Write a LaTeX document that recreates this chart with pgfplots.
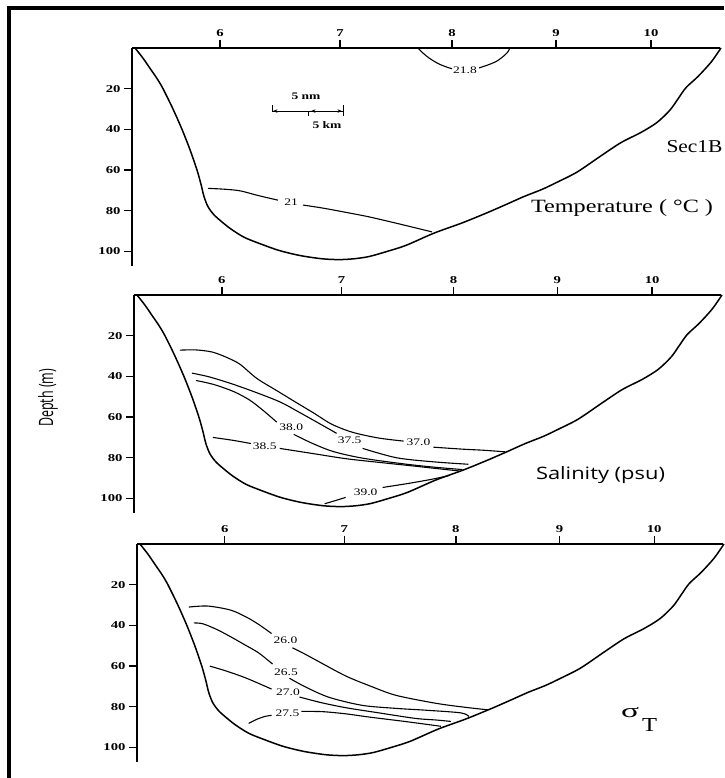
\documentclass[border=0pt]{standalone}
\usepackage{fontspec}
\setmainfont{Liberation Serif}
\setsansfont{Open Sans}
\usepackage{graphicx}
\usepackage{pgfplots}
\pgfplotsset{compat=1.18}
\usepackage{pgfplotstable}
\usetikzlibrary{arrows.meta}

\newcommand{\tl}[1]{\scalebox{1.4}[1]{\fontsize{10.5}{12}\selectfont\bfseries #1}}
\newcommand{\cl}[1]{\scalebox{1.35}[1]{\fontsize{10}{11}\selectfont #1}}
\newcommand{\bl}[1]{\scalebox{1.35}[1]{\fontsize{10}{11}\selectfont\bfseries #1}}

% bathymetry of the section (distance offset, -depth)
\pgfplotstableread{
x y
3 0
11 -5
18 -10
25 -15
31 -20
41 -30
50 -40
58 -50
65 -60
69 -67
72 -73
76 -78
82 -82
90 -85.5
99 -89
112 -93
127 -96
147 -99.5
168 -102
190 -103.6
207 -104
222 -103.6
237 -102.5
255 -100
274 -97
302 -91
330 -86
355 -81
376 -76.5
392 -73
410 -69.5
425 -66
445 -61
469 -53
489 -46.5
509 -41.5
525 -36.6
538 -30.5
546 -25
554 -19.5
566 -14
579 -7
589 0
}\profile

\pgfplotsset{
  sec/.style={
    scale only axis, width=588pt, height=217.7pt,
    xmin=0, xmax=588, ymin=-107, ymax=0,
    axis x line=top, axis y line=left,
    x axis line style={-}, y axis line style={-},
    axis line style={line width=1.4pt},
    tick align=outside, major tick length=8pt,
    tick style={black, line width=1.3pt},
    xtick={88,208,320,424,519},
    xticklabels={\tl{6},\tl{7},\tl{8},\tl{9},\tl{10}},
    ytick={-100,-80,-60,-40,-20},
    yticklabels={\tl{100},\tl{80},\tl{60},\tl{40},\tl{20}},
    clip=false,
  },
  prof/.style={black, line width=1.5pt, smooth, tension=0.5, mark=none},
  iso/.style={black, line width=1.1pt, smooth, tension=0.5, mark=none},
}

\begin{document}
\begin{tikzpicture}[x=1pt,y=1pt]
\useasboundingbox (0,0) rectangle (724,778);
\fill[white] (0,0) rectangle (724,778);
\draw[line width=4pt] (9,0) -- (9,769.5) -- (724,769.5);

% ---------------- Temperature
\begin{axis}[sec, at={(132pt,730pt)}, anchor=north west]
\addplot[prof] table[x=x,y=y] {\profile};
\addplot[iso] coordinates {(76,-69) (92,-69.4) (108,-70.2) (126,-72.5) (146,-74.8)};
\addplot[iso] coordinates {(171,-77.2) (191,-78.7) (214,-80.8) (237,-83) (270,-86.8) (300,-90.4)};
\node at (axis cs:159,-75.8) {\cl{21}};
\addplot[iso] coordinates {(286,0) (291,-2.5) (297,-4.9) (303,-6.8) (309,-8.3) (316,-9.6) (320,-10.2)};
\addplot[iso] coordinates {(347,-9.8) (355,-8.5) (364,-6.7) (369,-5) (373,-3.4) (376,-1.8) (378,0)};
\node at (axis cs:333,-11.1) {\cl{21.8}};
% scale bar
\draw[line width=1pt] (axis cs:140,-31) -- (axis cs:211,-31);
\draw[line width=1pt] (axis cs:140,-28) -- (axis cs:140,-31);
\draw[line width=1pt] (axis cs:176,-31) -- (axis cs:176,-33.5);
\draw[line width=1pt] (axis cs:211,-28) -- (axis cs:211,-33.5);
\draw[line width=0.9pt,-{Stealth[length=4.5pt,width=3.5pt]}] (axis cs:152,-31) -- (axis cs:141,-31);
\draw[line width=0.9pt,-{Stealth[length=4.5pt,width=3.5pt]}] (axis cs:198,-31) -- (axis cs:210,-31);
\draw[line width=0.9pt,-{Stealth[length=4.5pt,width=3.5pt]}] (axis cs:190,-31) -- (axis cs:179,-31);
\node at (axis cs:174,-23.5) {\bl{5 nm}};
\node at (axis cs:195,-37.7) {\bl{5 km}};
\end{axis}

% ---------------- Salinity
\begin{axis}[sec, width=587pt, at={(134pt,483pt)}, anchor=north west]
\addplot[prof] table[x=x,y=y] {\profile};
% 37.0
\addplot[iso] coordinates {(46,-27.1) (62,-27) (78,-28) (92,-30.5) (106,-34) (123,-41) (143,-47) (163,-53) (180,-58) (198,-63.5) (219,-67.5) (245,-70.3) (270,-71.8)};
\addplot[iso] coordinates {(300,-74.8) (330,-75.8) (350,-76.3) (372,-77.1)};
\node at (axis cs:285,-72.3) {\cl{37.0}};
% 37.5
\addplot[iso] coordinates {(58,-38.4) (75,-40.2) (97,-43.5) (120,-47.5) (146,-52.5) (165,-57.5) (185,-63) (203,-68)};
\addplot[iso] coordinates {(229,-75.4) (263,-80) (300,-82) (335,-83.2)};
\node at (axis cs:216,-71.4) {\cl{37.5}};
% 38.0
\addplot[iso] coordinates {(62,-42) (80,-44) (100,-47.5) (116,-51.7) (130,-57) (143,-62.5)};
\addplot[iso] coordinates {(160,-68.5) (179,-73) (200,-77) (229,-80.2) (270,-83) (300,-84.6) (329,-85.8)};
\node at (axis cs:157.5,-65) {\cl{38.0}};
% 38.5
\addplot[iso] coordinates {(79,-70) (100,-71.5) (117,-73)};
\addplot[iso] coordinates {(146,-75.4) (180,-78) (213,-80.5) (250,-82.5) (279,-84) (305,-85.4) (326,-86.5)};
\node at (axis cs:131,-74.4) {\cl{38.5}};
% 39.0
\addplot[iso] coordinates {(191,-102.6) (200,-101.3) (212,-99.5)};
\addplot[iso] coordinates {(249,-94.6) (275,-92.6) (298,-90.6) (316,-88.7)};
\node at (axis cs:232,-97) {\cl{39.0}};
\end{axis}

% ---------------- Sigma-T
\begin{axis}[sec, width=586pt, at={(137pt,234pt)}, anchor=north west]
\addplot[prof] table[x=x,y=y] {\profile};
% 26.0
\addplot[iso] coordinates {(52,-31) (71,-30.5) (94,-32.5) (110,-36) (122,-39.5) (135,-44)};
\addplot[iso] coordinates {(156,-51) (170,-54.5) (185,-58.5) (210,-65) (235,-70) (260,-74.4) (300,-78.3) (330,-80.3) (352,-81.5)};
\node at (axis cs:149,-47.3) {\cl{26.0}};
% 26.5
\addplot[iso] coordinates {(57,-38.8) (66,-39.2) (80,-42) (94,-45.6) (108,-49.5) (122,-53.5) (136,-59)};
\addplot[iso] coordinates {(153,-66) (170,-70.5) (193,-75.4) (226,-79.3) (260,-80.8) (290,-81.7) (325,-83) (333,-84.8)};
\node at (axis cs:149.5,-62.9) {\cl{26.5}};
% 27.0
\addplot[iso] coordinates {(73,-60) (90,-62.5) (110,-66) (135,-71.3)};
\addplot[iso] coordinates {(163,-75.2) (185,-78) (210,-80.5) (240,-82.8) (279,-85.7) (300,-86.5) (315,-87.2)};
\node at (axis cs:151.5,-72.7) {\cl{27.0}};
% 27.5
\addplot[iso] coordinates {(112,-88.2) (120,-86.2) (128,-84.8) (135,-84.2)};
\addplot[iso] coordinates {(165,-82.3) (186,-82.4) (210,-83.5) (232,-85) (270,-87.3) (305,-89.6)};
\node at (axis cs:151,-83.3) {\cl{27.5}};
\end{axis}

% ---------------- annotations
\node at (694.5,631) {\resizebox{56pt}{12pt}{Sec1B}};
\node at (622,569.5) {\resizebox{182pt}{13pt}{Temperature ( °C )}};
\node at (600.5,303) {\resizebox{129pt}{13pt}{\sffamily Salinity (psu)}};
\node[rotate=90] at (48,380) {\resizebox{58pt}{15pt}{\sffamily Depth (m)}};
\node at (630,65) {\resizebox{18pt}{10pt}{σ}};
\node at (649.5,53) {\resizebox{15pt}{13pt}{T}};
\end{tikzpicture}
\end{document}
